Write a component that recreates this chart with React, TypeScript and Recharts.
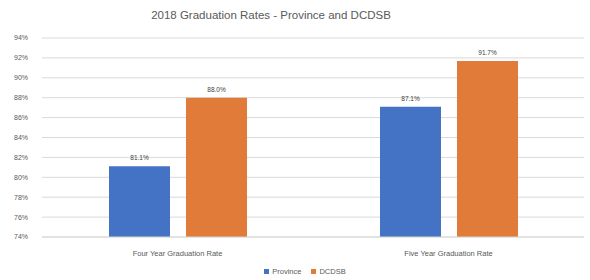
import React from 'react';
import {
  BarChart,
  Bar,
  XAxis,
  YAxis,
  CartesianGrid,
  LabelList,
} from 'recharts';

// Values
const categories = ['Four Year Graduation Rate', 'Five Year Graduation Rate'];
const province = [81.1, 87.1];
const dcdsb = [88.0, 91.7];
const yTicks = [74, 76, 78, 80, 82, 84, 86, 88, 90, 92, 94];

const FONT = '"Liberation Sans", Arial, sans-serif';
const TEXT = '#595959';
const BLUE = '#4472c4';
const ORANGE = '#e07b39';

const chartData = categories.map((name, i) => ({
  name,
  province: province[i],
  dcdsb: dcdsb[i],
}));

const pct = (v: any) => `${Number(v).toFixed(1)}%`;

const legendItems = [
  { name: 'Province', color: BLUE },
  { name: 'DCDSB', color: ORANGE },
];

export default function App() {
  return (
    <div
      style={{
        position: 'absolute',
        left: 0,
        top: 0,
        width: 590,
        height: 280,
        background: '#fff',
        fontFamily: FONT,
      }}
    >
      <div
        style={{
          position: 'absolute',
          top: 9,
          left: 0,
          width: 542,
          textAlign: 'center',
          fontSize: 11.5,
          color: TEXT,
        }}
      >
        2018 Graduation Rates - Province and DCDSB
      </div>
      <BarChart
        width={590}
        height={280}
        data={chartData}
        margin={{ top: 38, right: 6, bottom: 23, left: 0 }}
        barCategoryGap="24.5%"
        barGap={16}
      >
        <CartesianGrid vertical={false} stroke="#d9d9d9" />
        <XAxis
          dataKey="name"
          height={20}
          tickLine={false}
          axisLine={{ stroke: '#d9d9d9' }}
          tick={{ fontSize: 7.5, fill: TEXT, fontFamily: FONT }}
          tickMargin={8}
        />
        <YAxis
          width={42}
          domain={[74, 94]}
          ticks={yTicks}
          interval={0}
          tickLine={false}
          axisLine={false}
          tickFormatter={(v) => `${v}%`}
          tick={{ fontSize: 7, fill: TEXT, fontFamily: FONT }}
          tickMargin={8}
        />
        <Bar dataKey="province" name="Province" fill={BLUE} barSize={61} isAnimationActive={false}>
          <LabelList
            dataKey="province"
            position="top"
            offset={6}
            formatter={pct}
            style={{ fontSize: 6.5, fill: '#404040', fontFamily: FONT }}
          />
        </Bar>
        <Bar dataKey="dcdsb" name="DCDSB" fill={ORANGE} barSize={61} isAnimationActive={false}>
          <LabelList
            dataKey="dcdsb"
            position="top"
            offset={6}
            formatter={pct}
            style={{ fontSize: 6.5, fill: '#404040', fontFamily: FONT }}
          />
        </Bar>
      </BarChart>
      <div
        style={{
          position: 'absolute',
          top: 267,
          left: 0,
          width: 610,
          display: 'flex',
          justifyContent: 'center',
          gap: 10,
          fontSize: 7.5,
          color: TEXT,
        }}
      >
        {legendItems.map((it) => (
          <span key={it.name} style={{ display: 'flex', alignItems: 'center', gap: 3 }}>
            <span style={{ width: 5, height: 5, background: it.color, display: 'inline-block' }} />
            {it.name}
          </span>
        ))}
      </div>
    </div>
  );
}
